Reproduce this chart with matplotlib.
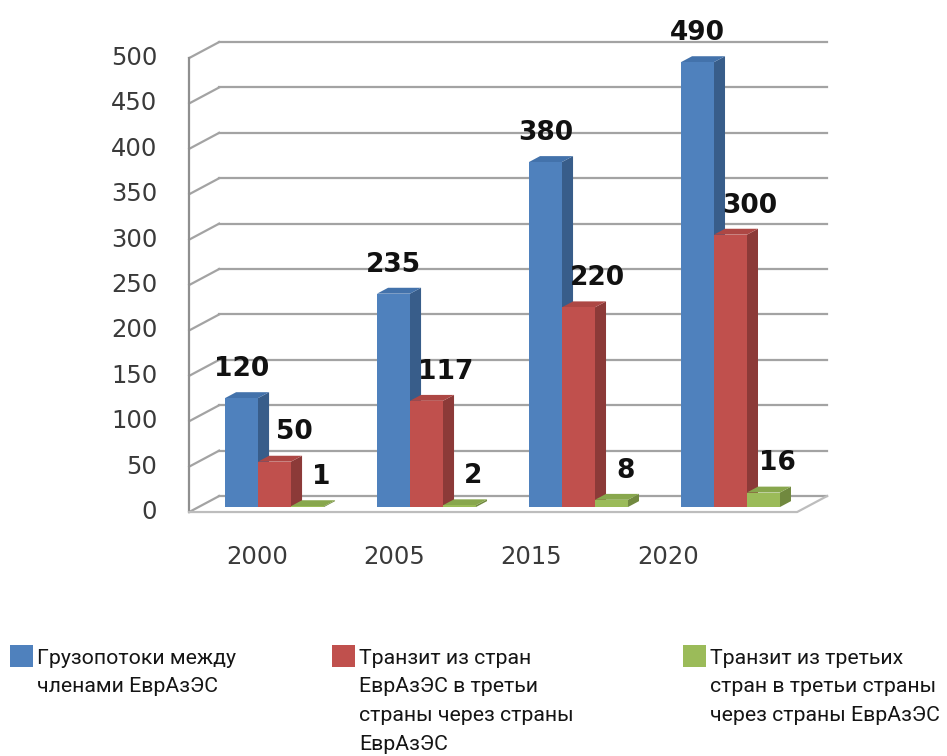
import numpy as np
import matplotlib.pyplot as plt
from matplotlib.patches import Polygon, Rectangle

plt.rcParams['font.family'] = ['DejaVu Sans']

# Грузопотоки по годам
years = ['2000', '2005', '2015', '2020']
flows_members = [120, 235, 380, 490]
transit_out = [50, 117, 220, 300]
transit_third = [1, 2, 8, 16]
series = [flows_members, transit_out, transit_third]
yticks = np.arange(0, 501, 50)

legend_labels = [
    ['Грузопотоки между', 'членами ЕврАзЭС'],
    ['Транзит из стран', 'ЕврАзЭС в третьи', 'страны через страны', 'ЕврАзЭС'],
    ['Транзит из третьих', 'стран в третьи страны', 'через страны ЕврАзЭС'],
]

front_colors = ['#4f81bd', '#c0504d', '#9bbb59']
side_colors = ['#385d8a', '#8c3a38', '#71893f']
top_colors = ['#4372ab', '#ad4744', '#88a74d']

W, H = 947, 756
fig = plt.figure(figsize=(W / 100, H / 100), dpi=100)
ax = fig.add_axes([0, 0, 1, 1])
ax.set_xlim(-1.745, 4.486)
ax.set_ylim(-268.7, 563.9)
ax.axis('off')

# глубина "коробки" в единицах данных
DX, DY = 0.197, 17.6
D0, D1 = 0.31, 0.68     # передняя и задняя грань столбиков
BW = 0.217              # ширина столбика


def proj(x, v, d):
    return (x + d * DX, v + d * DY)


wall_l, wall_r = -0.5, 3.5
grid_c = '#a3a3a3'
for v in yticks:
    ax.plot([wall_l + DX, wall_r + DX], [v + DY, v + DY], color=grid_c, lw=1.6, zorder=1)
    ax.plot([wall_l, wall_l + DX], [v, v + DY], color=grid_c, lw=1.6, zorder=1)
    ax.annotate(str(v), xy=(wall_l, v), xytext=(-23, 0), textcoords='offset points',
                ha='right', va='center', fontsize=17.5, color='#3a3a3a')
ax.plot([wall_l, wall_l], [0, 500], color='#8f8f8f', lw=1.6, zorder=1)
# пол
ax.plot([wall_l, wall_r, wall_r + DX], [0, 0, DY], color='#bdbdbd', lw=1.6, zorder=1)

label_dx = [0, 14, 10]
for i in range(len(years)):
    for j, vals in enumerate(series):
        v = vals[i]
        x0 = i - 1.5 * BW + j * BW
        x1 = x0 + BW
        z = 2 + j
        front = Polygon([proj(x0, 0, D0), proj(x1, 0, D0), proj(x1, v, D0), proj(x0, v, D0)],
                        closed=True, facecolor=front_colors[j], edgecolor='none', zorder=z)
        side = Polygon([proj(x1, 0, D0), proj(x1, 0, D1), proj(x1, v, D1), proj(x1, v, D0)],
                       closed=True, facecolor=side_colors[j], edgecolor='none', zorder=z)
        top = Polygon([proj(x0, v, D0), proj(x1, v, D0), proj(x1, v, D1), proj(x0, v, D1)],
                      closed=True, facecolor=top_colors[j], edgecolor='none', zorder=z)
        for p in (side, top, front):
            ax.add_patch(p)
        cx, cy = proj((x0 + x1) / 2, v, D0)
        ax.annotate(str(v), xy=(cx, cy), xytext=(label_dx[j], 21), textcoords='offset points',
                    ha='center', va='center', fontsize=19, fontweight='bold',
                    color='#111111', zorder=10)

for i, y in enumerate(years):
    ax.text(i * 0.9 - 0.05, -50, y, ha='center', va='center', fontsize=17.5, color='#3a3a3a')

# легенда
lg = fig.add_axes([0, 0, 1, 1], facecolor='none')
lg.set_xlim(0, W)
lg.set_ylim(H, 0)
lg.axis('off')
legend_x = [10, 332, 683]
for j, lines in enumerate(legend_labels):
    lg.add_patch(Rectangle((legend_x[j], 645), 23, 22, facecolor=front_colors[j], edgecolor='none'))
    for k, line in enumerate(lines):
        lg.text(legend_x[j] + 27, 664 + 28.5 * k, line, ha='left', va='baseline',
                fontsize=15.3, family=['Roboto', 'DejaVu Sans'], color='#151515')

fig.savefig('out.png', dpi=100)
